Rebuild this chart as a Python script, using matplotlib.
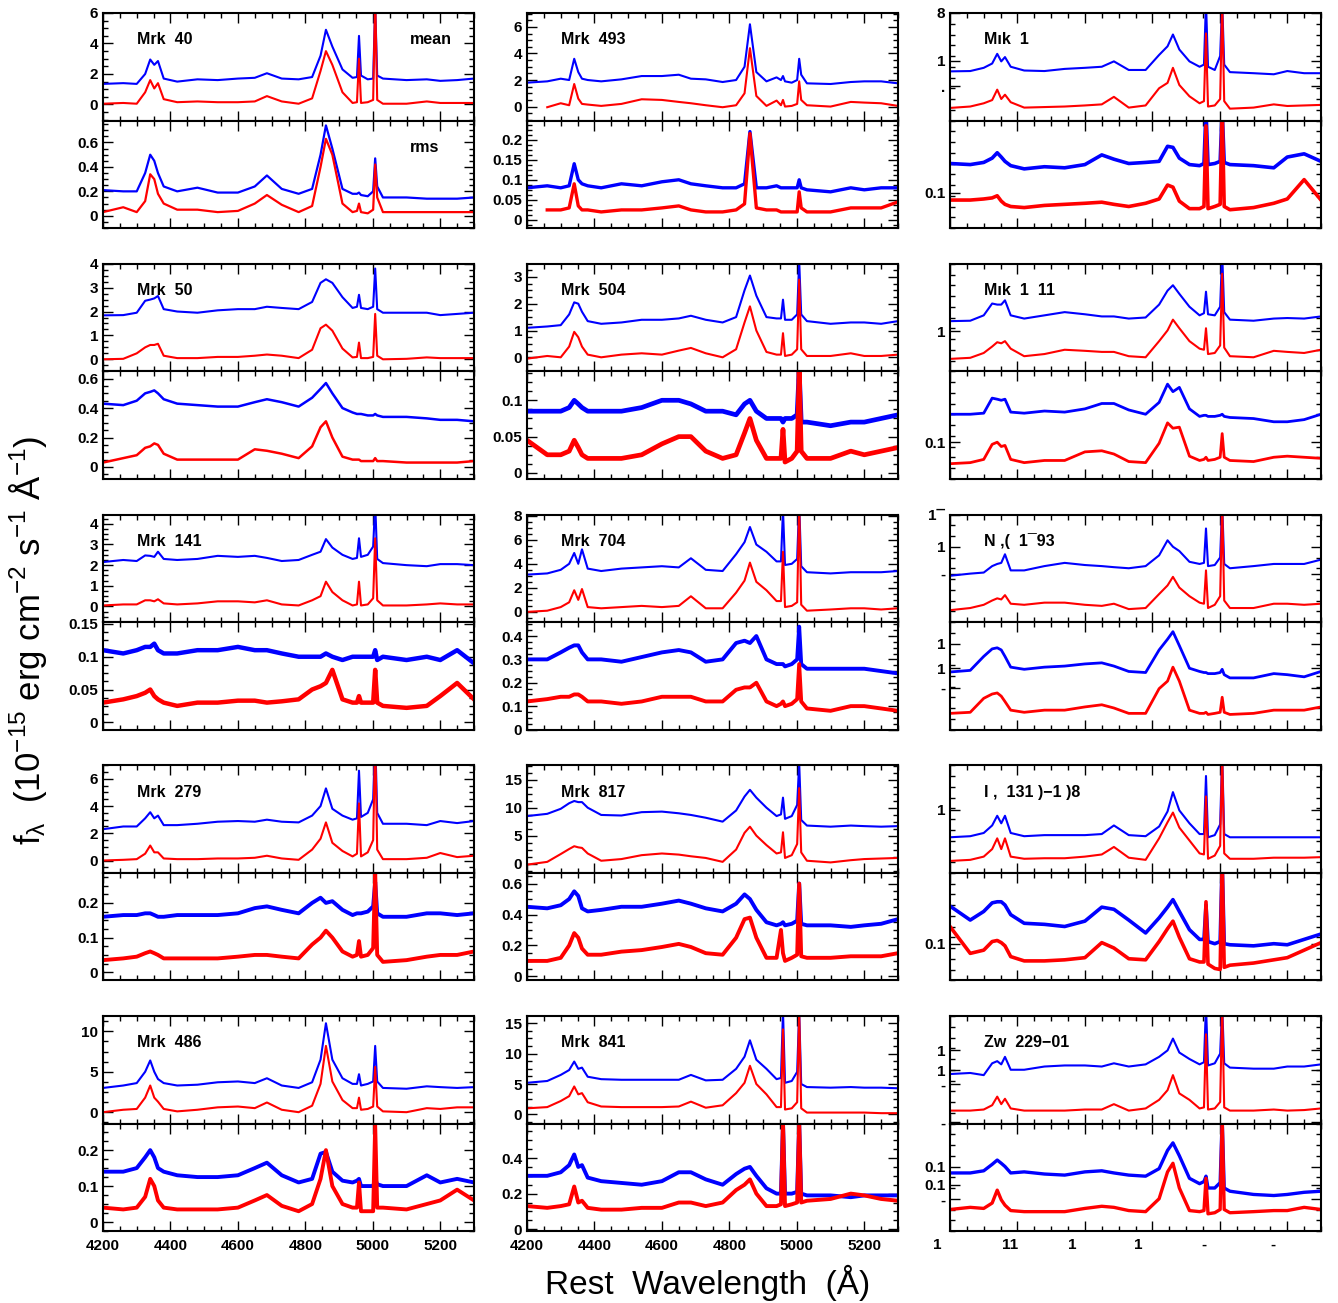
import numpy as np
import matplotlib
matplotlib.use('agg')
import matplotlib.pyplot as plt
from matplotlib.ticker import MultipleLocator, AutoMinorLocator

nan = np.nan

WAVE = [4200, 4260, 4300, 4325, 4340, 4352, 4363, 4380, 4420, 4480, 4540, 4600,
        4650, 4686, 4730, 4780, 4820, 4845, 4861, 4880, 4910, 4940, 4953, 4959,
        4965, 4985, 5001, 5007, 5013, 5030, 5100, 5160, 5200, 5250, 5300]

# ---- column 1 ----
mrk40_mean_b = [1.35,1.4,1.35,2.0,2.95,2.6,2.85,1.7,1.5,1.65,1.6,1.7,1.75,2.05,1.7,1.65,1.8,3.2,4.9,3.8,2.3,1.75,1.8,4.5,1.9,1.65,1.7,6.5,1.9,1.7,1.6,1.65,1.55,1.6,1.7]
mrk40_mean_r = [0.05,0.1,0.05,0.8,1.6,1.05,1.4,0.35,0.15,0.2,0.15,0.15,0.2,0.55,0.2,0.05,0.4,2.2,3.5,2.6,0.8,0.1,0.15,3.0,0.1,0.15,0.3,7.0,0.3,0.05,0.05,0.2,0.1,0.1,0.1]
mrk40_rms_b = [0.21,0.2,0.2,0.35,0.5,0.45,0.35,0.24,0.2,0.23,0.19,0.19,0.24,0.33,0.22,0.18,0.22,0.5,0.74,0.55,0.22,0.18,0.18,0.19,0.17,0.16,0.2,0.47,0.24,0.15,0.15,0.14,0.14,0.14,0.15]
mrk40_rms_r = [0.03,0.07,0.03,0.12,0.34,0.3,0.18,0.1,0.05,0.05,0.03,0.04,0.1,0.17,0.09,0.03,0.08,0.4,0.63,0.5,0.1,0.03,0.04,0.1,0.03,0.02,0.05,0.42,0.15,0.03,0.03,0.03,0.03,0.03,0.03]

mrk50_mean_b = [1.84,1.85,1.95,2.45,2.5,2.55,2.65,2.1,2.0,1.95,2.05,2.1,2.1,2.2,2.15,2.1,2.4,3.2,3.35,3.2,2.6,2.15,2.2,2.7,2.15,2.1,2.2,3.8,2.1,1.95,1.95,1.95,1.85,1.9,1.95]
mrk50_mean_r = [0.0,0.02,0.25,0.5,0.6,0.6,0.65,0.15,0.05,0.05,0.1,0.1,0.15,0.2,0.15,0.05,0.4,1.3,1.45,1.2,0.45,0.08,0.1,0.7,0.05,0.05,0.1,1.9,0.15,0.0,0.02,0.08,0.05,0.05,0.05]
mrk50_rms_b = [0.43,0.42,0.45,0.5,0.51,0.52,0.5,0.46,0.43,0.42,0.41,0.41,0.44,0.46,0.44,0.41,0.47,0.53,0.57,0.5,0.4,0.37,0.36,0.36,0.36,0.35,0.35,0.36,0.35,0.34,0.34,0.33,0.32,0.32,0.31]
mrk50_rms_r = [0.03,0.06,0.08,0.13,0.14,0.16,0.15,0.09,0.05,0.05,0.05,0.05,0.12,0.11,0.09,0.06,0.14,0.27,0.31,0.2,0.07,0.05,0.05,0.05,0.04,0.04,0.04,0.06,0.04,0.04,0.03,0.03,0.03,0.03,0.04]

mrk141_mean_b = [2.15,2.25,2.2,2.47,2.45,2.4,2.65,2.3,2.25,2.3,2.45,2.4,2.45,2.35,2.2,2.25,2.5,2.65,3.26,2.85,2.5,2.3,2.35,3.3,2.4,2.5,2.9,5.0,2.3,2.1,2.0,1.95,2.05,2.05,2.0]
mrk141_mean_r = [0.05,0.1,0.1,0.3,0.3,0.25,0.35,0.15,0.1,0.15,0.25,0.25,0.2,0.3,0.1,0.05,0.3,0.5,1.2,0.7,0.3,0.05,0.1,1.2,0.05,0.1,0.4,3.3,0.3,0.05,0.05,0.1,0.15,0.1,0.1]
mrk141_rms_b = [0.11,0.105,0.11,0.115,0.115,0.12,0.11,0.105,0.105,0.11,0.11,0.115,0.11,0.11,0.105,0.1,0.1,0.1,0.105,0.1,0.095,0.1,0.1,0.1,0.1,0.1,0.1,0.11,0.095,0.1,0.095,0.1,0.095,0.11,0.09]
mrk141_rms_r = [0.03,0.035,0.04,0.045,0.05,0.04,0.035,0.03,0.025,0.03,0.03,0.033,0.033,0.03,0.032,0.035,0.05,0.055,0.06,0.08,0.035,0.03,0.03,0.04,0.03,0.03,0.03,0.08,0.03,0.025,0.022,0.025,0.04,0.06,0.035]

mrk279_mean_b = [2.3,2.5,2.5,3.1,3.55,3.1,3.3,2.6,2.6,2.7,2.85,2.9,2.85,3.0,2.85,2.8,3.3,4.0,5.3,3.8,3.3,3.0,3.1,6.6,3.2,3.5,4.5,9.0,3.5,2.7,2.7,2.6,2.9,2.75,2.9]
mrk279_mean_r = [0.0,0.05,0.1,0.5,1.1,0.6,0.6,0.15,0.1,0.1,0.15,0.15,0.2,0.35,0.15,0.05,0.8,1.6,2.8,1.3,0.7,0.3,0.5,4.2,0.3,0.6,1.5,9.0,0.8,0.1,0.1,0.2,0.55,0.25,0.35]
mrk279_rms_b = [0.16,0.165,0.165,0.17,0.17,0.165,0.16,0.16,0.165,0.165,0.165,0.17,0.185,0.19,0.18,0.17,0.2,0.215,0.2,0.205,0.18,0.165,0.17,0.17,0.17,0.175,0.19,0.26,0.17,0.16,0.16,0.17,0.17,0.165,0.17]
mrk279_rms_r = [0.035,0.04,0.045,0.055,0.06,0.055,0.05,0.04,0.04,0.04,0.04,0.045,0.05,0.05,0.045,0.04,0.08,0.1,0.12,0.1,0.06,0.045,0.05,0.09,0.045,0.05,0.07,0.29,0.05,0.03,0.035,0.045,0.05,0.05,0.06]

mrk486_mean_b = [3.0,3.3,3.6,5.0,6.4,5.0,4.1,3.6,3.3,3.4,3.7,3.8,3.6,4.2,3.3,3.0,3.7,6.5,11.0,6.5,4.2,3.5,3.5,4.7,3.3,3.5,3.8,8.2,3.8,3.0,2.9,3.2,3.1,3.0,3.1]
mrk486_mean_r = [0.0,0.3,0.4,1.8,3.3,1.8,1.3,0.4,0.1,0.3,0.6,0.7,0.5,1.2,0.3,0.0,0.8,3.5,8.2,3.8,1.5,0.5,0.5,1.8,0.3,0.4,0.7,5.6,0.7,0.1,0.0,0.5,0.4,0.6,0.6]
mrk486_rms_b = [0.14,0.14,0.15,0.18,0.2,0.18,0.15,0.14,0.13,0.125,0.125,0.13,0.15,0.165,0.13,0.11,0.12,0.19,0.195,0.14,0.115,0.11,0.115,0.12,0.1,0.1,0.1,0.12,0.105,0.1,0.1,0.13,0.11,0.12,0.11]
mrk486_rms_r = [0.04,0.035,0.04,0.07,0.12,0.1,0.06,0.04,0.035,0.035,0.035,0.04,0.06,0.075,0.045,0.03,0.05,0.12,0.2,0.1,0.05,0.04,0.04,0.11,0.03,0.03,0.03,0.27,0.04,0.04,0.035,0.05,0.06,0.09,0.06]

# ---- column 2 ----
mrk493_mean_b = [1.8,1.9,2.1,2.0,3.6,2.6,2.1,2.0,1.9,2.05,2.3,2.3,2.4,2.1,2.05,1.85,2.0,3.0,6.2,2.6,1.9,2.2,2.0,2.3,1.9,1.8,2.0,3.6,2.4,1.75,1.7,1.85,1.9,1.9,1.75]
mrk493_mean_r = [nan,-0.05,0.25,0.1,1.7,0.6,0.2,0.15,0.05,0.2,0.55,0.5,0.35,0.25,0.1,-0.05,0.1,1.0,4.4,0.8,0.05,0.45,0.1,0.5,0.0,0.05,0.2,1.9,0.5,0.1,0.0,0.35,0.3,0.25,0.05]
mrk493_rms_b = [0.08,0.085,0.08,0.085,0.14,0.1,0.09,0.085,0.08,0.09,0.085,0.095,0.1,0.09,0.085,0.08,0.08,0.09,0.22,0.08,0.08,0.085,0.08,0.08,0.08,0.08,0.08,0.1,0.08,0.075,0.07,0.08,0.075,0.08,0.08]
mrk493_rms_r = [nan,0.025,0.025,0.03,0.09,0.035,0.025,0.025,0.02,0.025,0.025,0.03,0.035,0.025,0.02,0.02,0.025,0.04,0.215,0.03,0.025,0.025,0.02,0.02,0.02,0.02,0.02,0.07,0.03,0.02,0.02,0.03,0.03,0.03,0.045]

mrk504_mean_b = [1.1,1.15,1.2,1.6,2.05,2.0,1.7,1.35,1.25,1.3,1.4,1.4,1.45,1.55,1.4,1.3,1.5,2.5,3.05,2.3,1.5,1.45,1.45,2.15,1.4,1.4,1.6,3.6,1.6,1.35,1.25,1.3,1.3,1.25,1.35]
mrk504_mean_r = [-0.05,0.05,0.0,0.4,0.95,0.75,0.4,0.1,0.0,0.1,0.15,0.1,0.25,0.35,0.15,0.0,0.3,1.3,1.9,1.0,0.2,0.1,0.1,0.9,0.05,0.1,0.3,2.9,0.3,0.05,0.05,0.15,0.05,0.05,0.1]
mrk504_rms_b = [0.085,0.085,0.085,0.09,0.1,0.095,0.09,0.085,0.085,0.085,0.09,0.1,0.1,0.095,0.085,0.085,0.08,0.095,0.1,0.085,0.075,0.075,0.075,0.07,0.075,0.075,0.08,0.14,0.07,0.07,0.065,0.07,0.07,0.075,0.08]
mrk504_rms_r = [0.045,0.025,0.025,0.03,0.045,0.035,0.025,0.02,0.02,0.02,0.025,0.04,0.05,0.05,0.03,0.02,0.025,0.055,0.075,0.045,0.02,0.02,0.02,0.06,0.015,0.02,0.03,0.14,0.03,0.02,0.02,0.03,0.025,0.03,0.035]

mrk704_mean_b = [3.1,3.2,3.5,4.0,4.9,4.0,5.2,3.6,3.4,3.6,3.7,3.8,3.7,4.46,3.5,3.4,4.8,5.8,7.06,5.6,5.0,4.2,4.2,8.5,3.9,4.0,4.4,9.0,3.8,3.3,3.2,3.3,3.3,3.3,3.4]
mrk704_mean_r = [0.0,0.1,0.4,0.8,1.8,1.0,1.9,0.4,0.3,0.4,0.5,0.4,0.5,1.3,0.3,0.3,1.6,2.6,4.1,2.5,1.8,0.9,0.9,5.0,0.4,0.5,0.8,9.0,0.6,0.1,0.2,0.3,0.3,0.2,0.3]
mrk704_rms_b = [0.3,0.3,0.33,0.35,0.36,0.36,0.33,0.3,0.3,0.29,0.31,0.33,0.34,0.33,0.29,0.3,0.37,0.38,0.37,0.4,0.3,0.28,0.28,0.28,0.27,0.28,0.3,0.44,0.28,0.26,0.26,0.26,0.26,0.25,0.24]
mrk704_rms_r = [0.12,0.13,0.14,0.14,0.15,0.15,0.14,0.12,0.12,0.11,0.12,0.14,0.14,0.14,0.12,0.12,0.17,0.18,0.18,0.2,0.12,0.1,0.11,0.12,0.1,0.11,0.13,0.28,0.12,0.09,0.08,0.1,0.1,0.09,0.08]

mrk817_mean_b = [8.5,8.9,9.8,10.8,11.2,11.0,11.0,10.0,8.7,8.6,9.2,9.3,9.0,8.7,8.2,7.5,9.5,12.0,13.2,11.8,10.0,8.5,8.8,11.8,8.0,8.5,10.5,18,7.8,6.8,6.6,6.8,6.7,6.6,6.7]
mrk817_mean_r = [-0.2,0.3,1.7,2.6,3.1,2.9,2.8,1.8,0.5,0.8,1.5,1.8,1.6,1.3,1.0,0.3,2.5,5.5,6.6,5.0,3.3,1.8,2.0,5.6,1.0,1.5,3.5,13.5,2.0,0.5,0.2,0.6,0.8,0.9,1.0]
mrk817_rms_b = [0.45,0.44,0.46,0.5,0.55,0.52,0.44,0.42,0.43,0.45,0.45,0.47,0.49,0.47,0.44,0.42,0.47,0.53,0.5,0.43,0.35,0.33,0.34,0.35,0.33,0.34,0.36,0.6,0.34,0.33,0.33,0.32,0.33,0.34,0.37]
mrk817_rms_r = [0.1,0.1,0.12,0.2,0.28,0.25,0.18,0.14,0.14,0.16,0.17,0.19,0.21,0.19,0.15,0.14,0.25,0.37,0.38,0.25,0.12,0.12,0.3,0.15,0.1,0.12,0.14,0.6,0.13,0.12,0.12,0.13,0.13,0.13,0.15]

mrk841_mean_b = [5.2,5.5,6.5,7.3,8.7,7.5,7.7,6.2,5.8,5.7,5.7,5.7,5.7,6.5,5.6,5.7,7.5,9.5,12.2,9.0,7.5,5.8,6.0,17,5.2,5.5,7.0,17,5.0,4.5,4.4,4.5,4.4,4.4,4.3]
mrk841_mean_r = [1.0,1.2,2.2,3.0,4.6,3.3,3.5,2.0,1.3,1.2,1.2,1.2,1.3,2.1,1.1,1.5,3.5,5.2,8.0,5.0,3.3,1.2,1.2,14.0,0.8,1.0,2.0,17,1.0,0.3,0.3,0.3,0.3,0.2,0.2]
mrk841_rms_b = [0.3,0.3,0.32,0.36,0.42,0.35,0.36,0.29,0.27,0.26,0.25,0.27,0.32,0.32,0.28,0.25,0.31,0.34,0.35,0.3,0.23,0.2,0.2,0.6,0.2,0.2,0.21,0.6,0.2,0.19,0.19,0.18,0.19,0.19,0.19]
mrk841_rms_r = [0.13,0.12,0.13,0.14,0.24,0.15,0.16,0.12,0.11,0.11,0.12,0.12,0.15,0.15,0.13,0.15,0.22,0.25,0.28,0.2,0.13,0.13,0.14,0.6,0.13,0.14,0.15,0.6,0.15,0.16,0.17,0.2,0.19,0.17,0.16]

# ---- column 3 (values in panel units, 0 to 10) ----
mrk1_mean_b = [4.57,4.6,4.9,5.3,6.2,5.5,5.9,5.0,4.65,4.6,4.8,4.9,5.0,5.5,4.7,4.7,6.1,6.9,8.0,6.6,5.5,5.0,5.2,11,5.0,4.7,6.0,11,5.2,4.5,4.4,4.3,4.6,4.4,4.4]
mrk1_mean_r = [1.17,1.3,1.6,1.9,2.87,2.0,2.4,1.7,1.2,1.25,1.3,1.4,1.5,2.2,1.2,1.4,3.0,3.5,4.9,3.3,2.25,1.6,1.8,8.1,1.3,1.4,2.0,11,1.8,1.1,1.2,1.5,1.35,1.4,1.45]
mrk1_rms_b = [6.0,5.9,6.1,6.5,7.0,6.6,6.2,5.8,5.5,5.7,5.6,5.9,6.8,6.4,6.0,6.1,6.2,7.6,7.5,6.5,5.9,5.8,6.0,11,5.9,6.0,6.2,11,6.1,5.9,5.8,5.6,6.6,6.9,6.2]
mrk1_rms_r = [2.6,2.6,2.7,2.8,3.0,2.5,2.2,2.0,1.9,2.1,2.2,2.3,2.4,2.2,2.0,2.3,2.7,4.0,3.8,2.5,1.8,1.8,2.0,9.5,1.8,2.0,2.2,11,2.0,1.7,1.9,2.3,2.7,4.5,2.6]

mrk1511_mean_b = [4.66,4.7,5.2,6.3,6.2,6.2,6.6,5.2,4.9,5.2,5.5,5.3,5.1,5.1,4.9,5.0,6.2,7.5,8.0,7.2,6.0,5.2,5.4,7.4,5.3,5.2,6.0,11,5.5,4.8,4.7,4.9,4.95,4.9,5.1]
mrk1511_mean_r = [1.15,1.25,1.7,2.3,2.7,2.6,2.8,2.1,1.4,1.6,2.0,1.9,1.8,1.8,1.4,1.3,2.8,3.8,4.8,4.0,2.8,2.1,2.0,4.0,1.6,1.7,2.4,9.07,2.2,1.4,1.3,1.9,1.8,1.7,2.0]
mrk1511_rms_b = [6.0,6.0,6.1,7.5,7.4,7.3,7.4,6.2,6.1,6.3,6.2,6.5,7.0,7.0,6.4,6.0,7.1,8.8,8.1,8.5,6.5,5.8,5.9,5.9,5.8,5.8,5.9,6.0,5.8,5.7,5.6,5.3,5.3,5.5,6.0]
mrk1511_rms_r = [1.4,1.5,1.8,3.2,3.4,3.0,3.1,1.8,1.5,1.7,1.7,2.5,2.6,2.3,1.6,1.5,3.3,5.2,4.7,4.8,2.1,1.7,1.8,2.0,1.7,1.8,2.0,4.2,2.0,1.7,1.6,2.0,2.1,2.0,1.9]

ngc_mean_b = [4.3,4.5,4.6,5.2,5.4,5.5,6.3,4.8,4.8,5.2,5.5,5.3,5.2,5.1,5.0,5.2,6.2,7.6,7.0,6.6,5.6,5.4,5.5,8.7,5.2,5.3,6.0,11,5.4,5.0,5.2,5.4,5.4,5.4,5.8]
ngc_mean_r = [1.1,1.3,1.6,2.0,2.2,2.1,2.5,1.7,1.6,1.8,1.8,1.6,1.5,1.7,1.2,1.3,2.6,3.4,4.2,3.2,2.4,1.8,1.7,4.8,1.3,1.6,2.4,11,2.0,1.3,1.3,1.7,1.7,1.6,1.7]
ngc_rms_b = [5.35,5.5,6.8,7.5,7.6,7.4,6.8,5.8,5.6,5.8,5.9,6.1,6.2,5.9,5.4,5.3,7.4,8.4,9.1,7.8,5.7,5.4,5.3,5.3,5.2,5.2,5.3,5.6,5.1,4.8,4.8,5.2,5.1,4.9,5.4]
ngc_rms_r = [1.5,1.6,2.9,3.3,3.4,3.1,2.6,1.8,1.6,1.8,1.8,2.1,2.3,2.0,1.5,1.5,3.8,4.5,5.8,4.5,1.8,1.5,1.5,1.6,1.4,1.5,1.6,3.0,1.6,1.4,1.5,1.8,1.8,1.8,2.1]

iras_mean_b = [3.3,3.4,3.7,4.4,5.3,4.6,5.3,3.7,3.4,3.5,3.5,3.5,3.6,4.4,3.5,3.4,4.3,5.7,7.5,5.8,4.6,3.6,3.6,9.0,3.3,3.5,4.5,11,3.6,3.3,3.3,3.3,3.3,3.3,3.3]
iras_mean_r = [1.1,1.2,1.5,2.2,3.2,2.2,3.2,1.5,1.3,1.35,1.35,1.5,1.7,2.4,1.4,1.2,3.2,4.7,5.6,4.2,3.0,1.8,1.7,7.1,1.3,1.6,2.5,11,1.8,1.3,1.3,1.4,1.4,1.4,1.45]
iras_rms_b = [6.9,5.6,6.4,7.2,7.3,7.3,7.0,6.1,5.3,5.2,5.0,5.5,6.8,6.6,5.6,4.4,5.8,6.8,7.5,6.4,4.7,3.8,3.8,7.0,3.6,3.4,3.6,11,3.4,3.3,3.2,3.4,3.3,3.8,4.3]
iras_rms_r = [5.0,2.5,2.8,3.6,3.7,3.5,3.2,2.2,1.8,1.8,1.9,2.1,3.5,3.0,2.0,1.9,3.6,4.8,5.5,4.0,2.0,1.7,1.7,7.3,1.5,1.1,1.0,11,1.2,1.4,1.6,1.9,2.1,2.8,3.5]

zw_mean_b = [4.6,4.7,4.5,5.6,5.8,5.5,6.2,5.0,5.0,5.3,5.4,5.4,5.3,5.6,5.3,5.5,6.2,6.8,7.9,6.6,6.0,5.5,5.7,11,5.4,5.6,6.5,11,5.6,5.2,5.1,5.1,5.3,5.3,5.5]
zw_mean_r = [1.2,1.2,1.3,1.7,2.5,1.8,2.3,1.4,1.2,1.2,1.2,1.3,1.3,1.8,1.2,1.4,2.2,3.1,4.5,2.8,2.2,1.4,1.5,8.3,1.3,1.4,2.0,11,1.5,1.2,1.2,1.3,1.2,1.25,1.4]
zw_rms_b = [5.4,5.4,5.6,6.2,6.6,6.3,6.0,5.4,5.5,5.3,5.2,5.5,5.6,5.4,5.2,5.1,5.8,7.5,8.2,7.0,4.9,4.4,4.6,5.1,4.0,4.0,4.5,10.5,4.0,3.7,3.4,3.3,3.4,3.6,3.7]
zw_rms_r = [2.0,2.2,2.1,2.6,3.8,2.9,2.4,1.9,1.8,1.8,1.8,2.1,2.3,2.2,1.9,1.8,3.0,5.5,6.3,4.0,1.9,1.8,1.9,4.9,1.6,1.7,2.0,10.5,2.0,1.7,1.8,1.9,1.9,2.2,2.0]

# object names as printed (third column came out garbled in the original)
NAMES = [['Mrk  40', 'Mrk  50', 'Mrk  141', 'Mrk  279', 'Mrk  486'],
         ['Mrk  493', 'Mrk  504', 'Mrk  704', 'Mrk  817', 'Mrk  841'],
         ['M\u0131k  1', 'M\u0131k  1  11', 'N ,(  1\u00af93', 'I ,  131 )\u22121 )8', 'Zw  229\u221201']]

X_TICKS = [4200, 4400, 4600, 4800, 5000, 5200]
COL3_XLABELS = ['1', '11', '1', '1', '-', '-']
COL3_XLABEL_POS = [4161, 4378, 4562, 4757, 4953, 5158]

# (blue, red, ylim, yticks, yticklabels) for mean and rms panels
PANELS = {
    (0, 0): ((mrk40_mean_b, mrk40_mean_r, (-1.05, 6.0), [0, 2, 4, 6], None),
             (mrk40_rms_b, mrk40_rms_r, (-0.1, 0.78), [0, 0.2, 0.4, 0.6], None), 1.6),
    (0, 1): ((mrk50_mean_b, mrk50_mean_r, (-0.5, 4.0), [0, 1, 2, 3, 4], None),
             (mrk50_rms_b, mrk50_rms_r, (-0.08, 0.65), [0, 0.2, 0.4, 0.6], None), 1.8),
    (0, 2): ((mrk141_mean_b, mrk141_mean_r, (-0.75, 4.45), [0, 1, 2, 3, 4], None),
             (mrk141_rms_b, mrk141_rms_r, (-0.011, 0.153), [0, 0.05, 0.1, 0.15], None), 3.2),
    (0, 3): ((mrk279_mean_b, mrk279_mean_r, (-0.9, 7.0), [0, 2, 4, 6], None),
             (mrk279_rms_b, mrk279_rms_r, (-0.023, 0.287), [0, 0.1, 0.2], None), 2.8),
    (0, 4): ((mrk486_mean_b, mrk486_mean_r, (-1.4, 11.9), [0, 5, 10], None),
             (mrk486_rms_b, mrk486_rms_r, (-0.025, 0.274), [0, 0.1, 0.2], None), 2.8),
    (1, 0): ((mrk493_mean_b, mrk493_mean_r, (-1.05, 7.05), [0, 2, 4, 6], None),
             (mrk493_rms_b, mrk493_rms_r, (-0.02, 0.2475), [0, 0.05, 0.1, 0.15, 0.2], None), 2.4),
    (1, 1): ((mrk504_mean_b, mrk504_mean_r, (-0.52, 3.49), [0, 1, 2, 3], None),
             (mrk504_rms_b, mrk504_rms_r, (-0.008, 0.14), [0, 0.05, 0.1], None), 3.4),
    (1, 2): ((mrk704_mean_b, mrk704_mean_r, (-0.84, 8.1), [0, 2, 4, 6, 8], None),
             (mrk704_rms_b, mrk704_rms_r, (0.0, 0.46), [0, 0.1, 0.2, 0.3, 0.4], None), 2.8),
    (1, 3): ((mrk817_mean_b, mrk817_mean_r, (-1.65, 17.6), [0, 5, 10, 15], None),
             (mrk817_rms_b, mrk817_rms_r, (-0.025, 0.67), [0, 0.2, 0.4, 0.6], None), 2.8),
    (1, 4): ((mrk841_mean_b, mrk841_mean_r, (-1.5, 16.2), [0, 5, 10, 15], None),
             (mrk841_rms_b, mrk841_rms_r, (-0.01, 0.594), [0, 0.2, 0.4], None), 2.8),
    (2, 0): ((mrk1_mean_b, mrk1_mean_r, (0, 10), [10, 5.56, 3.2], ['8', '1', '.']),
             (mrk1_rms_b, mrk1_rms_r, (0, 10), [3.3], ['0.1']), 2.6),
    (2, 1): ((mrk1511_mean_b, mrk1511_mean_r, (0, 10), [3.74], ['1']),
             (mrk1511_rms_b, mrk1511_rms_r, (0, 10), [3.4], ['0.1']), 2.0),
    (2, 2): ((ngc_mean_b, ngc_mean_r, (0, 10), [10, 7.0, 4.5], ['1\u00af', '1', '-']),
             (ngc_rms_b, ngc_rms_r, (0, 10), [8.0, 5.7, 3.9], ['1', '1', '-']), 2.0),
    (2, 3): ((iras_mean_b, iras_mean_r, (0, 10), [5.84], ['1']),
             (iras_rms_b, iras_rms_r, (0, 10), [3.38], ['0.1']), 2.6),
    (2, 4): ((zw_mean_b, zw_mean_r, (0, 10), [6.83, 4.95, 3.63, 0.1], ['1', '1', '-', '-']),
             (zw_rms_b, zw_rms_r, (0, 10), [6.0, 4.3, 3.0], ['0.1', '0.1', '-']), 2.4),
}

plt.rcParams['font.family'] = ['Liberation Sans', 'DejaVu Sans']
plt.rcParams['font.weight'] = 'bold'
plt.rcParams['mathtext.fontset'] = 'custom'
plt.rcParams['mathtext.rm'] = 'Liberation Sans:weight=normal'
plt.rcParams['mathtext.it'] = 'Liberation Sans:weight=normal'
plt.rcParams['mathtext.bf'] = 'Liberation Sans:weight=normal'

W, H = 1338, 1303
COL_LEFT = [103, 527, 950]
AX_W = 371
ROW_TOP = [13, 263.75, 514.5, 765.25, 1016]
PH = 107.5

fig = plt.figure(figsize=(W / 100, H / 100), dpi=100)


def style_axis(ax, ylim, yticks, ylabels, minor_y):
    ax.set_xlim(4200, 5300)
    ax.set_ylim(*ylim)
    ax.xaxis.set_major_locator(MultipleLocator(200))
    ax.xaxis.set_minor_locator(MultipleLocator(50))
    if ylabels is None:
        ylabels = ['%g' % t for t in yticks]
    ax.set_yticks(yticks, ylabels)
    ax.yaxis.set_minor_locator(minor_y)
    ax.tick_params(which='both', direction='in', top=True, right=True, width=1.0,
                   labelsize=11, labelbottom=False)
    ax.tick_params(which='major', length=7)
    ax.tick_params(which='minor', length=3.5)
    ax.tick_params(axis='x', pad=6)
    for sp in ax.spines.values():
        sp.set_linewidth(1.5)


for (col, row), (mean, rms, rms_lw) in PANELS.items():
    left = COL_LEFT[col]
    for k, (blue, red, ylim, yticks, ylabels) in enumerate((mean, rms)):
        top = ROW_TOP[row] + k * PH
        ax = fig.add_axes([left / W, 1 - (top + PH) / H, AX_W / W, PH / H])
        lw = 1.5 if k == 0 else rms_lw
        ax.plot(WAVE, blue, color='#0000ff', lw=lw, solid_joinstyle='round')
        ax.plot(WAVE, red, color='#ff0000', lw=lw, solid_joinstyle='round')
        minor_y = MultipleLocator(1.0) if col == 2 else AutoMinorLocator(4)
        style_axis(ax, ylim, yticks, ylabels, minor_y)
        if k == 0:
            ax.text(0.092, 0.75, NAMES[col][row], transform=ax.transAxes,
                    fontsize=11.5, fontweight='bold', va='center', ha='left')
            if col == 0 and row == 0:
                ax.text(0.94, 0.75, 'mean', transform=ax.transAxes,
                        fontsize=11.5, fontweight='bold', va='center', ha='right')
        else:
            if col == 0 and row == 0:
                ax.text(0.906, 0.75, 'rms', transform=ax.transAxes,
                        fontsize=11.5, fontweight='bold', va='center', ha='right')
            if row == 4 and col < 2:
                ax.set_xticks(X_TICKS, [str(t) for t in X_TICKS])
                ax.tick_params(labelbottom=True)
            if row == 4 and col == 2:
                for xp, lab in zip(COL3_XLABEL_POS, COL3_XLABELS):
                    ax.text(xp, -0.13, lab, transform=ax.get_xaxis_transform(),
                            fontsize=11, fontweight='bold', ha='center', va='center',
                            clip_on=False)

fig.text(708 / W, 1 - 1283 / H, 'Rest  Wavelength  (\u00c5)', fontsize=24,
         fontweight='normal', ha='center', va='center')
fig.text(28 / W, 1 - 640 / H,
         r'f$_{\lambda}$  (10$^{-15}$ erg cm$^{-2}$ s$^{-1}$ $\mathrm{\AA}^{-1}$)',
         fontsize=25, fontweight='normal', rotation=90, ha='center', va='center')

fig.savefig('out.png', dpi=100)
